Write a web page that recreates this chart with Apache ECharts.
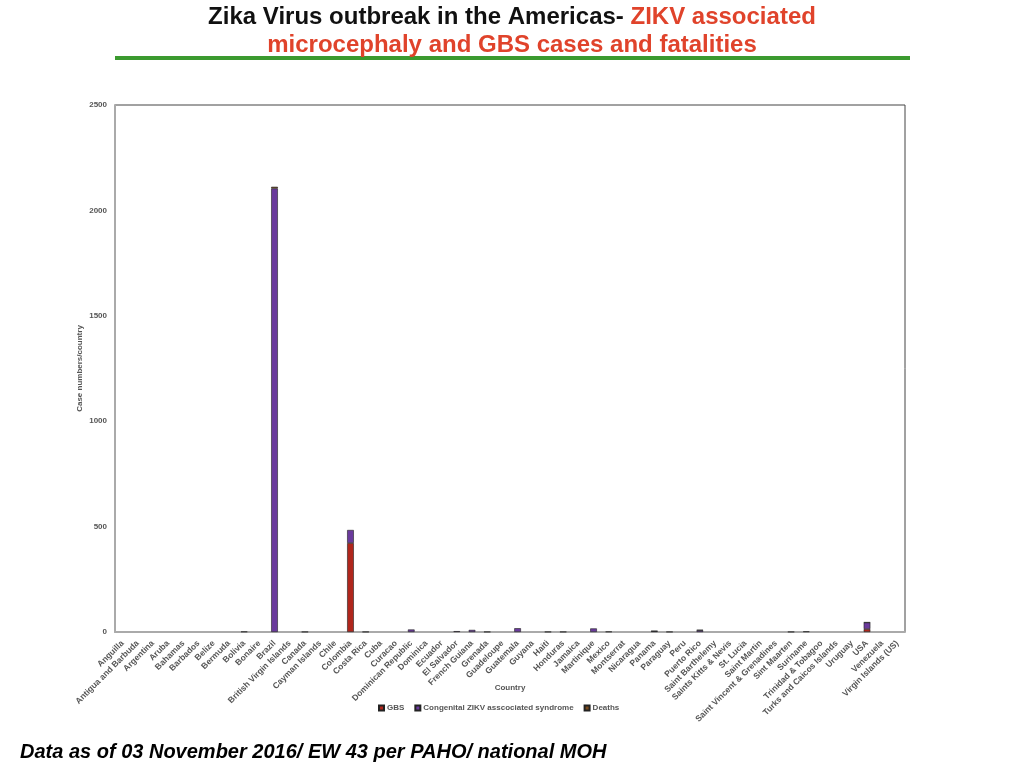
<!DOCTYPE html>
<html>
<head>
<meta charset="utf-8">
<script src="https://cdn.jsdelivr.net/npm/echarts@6/dist/echarts.min.js"></script>
<style>
  html, body { margin: 0; padding: 0; background: #fff; }
  #chart { width: 1024px; height: 768px; }
</style>
</head>
<body>
<div id="chart"></div>
<script>
// 各国数据
const COUNTRIES = [
  'Anguilla', 'Antigua and Barbuda', 'Argentina', 'Aruba', 'Bahamas', 'Barbados',
  'Belize', 'Bermuda', 'Bolivia', 'Bonaire', 'Brazil', 'British Virgin Islands',
  'Canada', 'Cayman Islands', 'Chile', 'Colombia', 'Costa Rica', 'Cuba', 'Curacao',
  'Dominican Republic', 'Dominica', 'Ecuador', 'El Salvador', 'French Guiana',
  'Grenada', 'Guadeloupe', 'Guatemala', 'Guyana', 'Haiti', 'Honduras', 'Jamaica',
  'Martinique', 'Mexico', 'Montserrat', 'Nicaragua', 'Panama', 'Paraguay', 'Peru',
  'Puerto Rico', 'Saint Barthelemy', 'Saints Kitts & Nevis', 'St. Lucia',
  'Saint Martin', 'Saint Vincent & Grenadines', 'Sint Maarten', 'Suriname',
  'Trinidad & Tobagoo', 'Turks and Caicos Islands', 'Uruguay', 'USA', 'Venezuela',
  'Virgin Islands (US)',
];

const GBS = [
  0, 0, 0, 0, 0, 0, 0, 0, 0, 0, 0, 0,
  0, 0, 0, 422, 0, 0, 0, 0, 0, 0, 0, 0,
  0, 0, 0, 0, 0, 0, 0, 0, 0, 0, 0, 0, 0, 0,
  0, 0, 0, 0, 0, 0, 0, 0, 0, 0, 0, 14, 0, 0,
];

const CONGENITAL = [
  0, 0, 0, 0, 0, 0, 0, 0, 2, 0, 2104, 0,
  1, 0, 0, 62, 1, 0, 0, 12, 0, 0, 4, 10,
  1, 0, 18, 0, 1, 1, 0, 17, 2, 0, 0, 4, 1, 0,
  8, 0, 0, 0, 0, 0, 1, 3, 0, 0, 0, 31, 0, 0,
];

const DEATHS = [
  0, 0, 0, 0, 0, 0, 0, 0, 0, 0, 8, 0,
  0, 0, 0, 0, 0, 0, 0, 0, 0, 0, 0, 0,
  0, 0, 0, 0, 0, 0, 0, 0, 0, 0, 0, 1, 0, 0,
  2, 0, 0, 0, 0, 0, 0, 0, 0, 0, 0, 1, 0, 0,
];

const Y_TICKS = { min: 0, max: 2500, interval: 500 };

const COLORS = { gbs: '#b0261c', cong: '#6a3a9c', deaths: '#7a4a1c' };

const FONT = 'Liberation Sans, Arial, sans-serif';
const SMALL = { fontFamily: FONT, fontSize: 8, fontWeight: 'bold', color: '#555' };

// 0 不画（否则会留下边框线）
function barSeries(name, data, color) {
  return {
    name, type: 'bar', stack: 'total',
    data: data.map((v) => (v === 0 ? null : v)),
    barWidth: '44%',
    itemStyle: { color, borderColor: '#222', borderWidth: 0.6 },
    emphasis: { disabled: true },
  };
}

const chart = echarts.init(document.getElementById('chart'), null, { renderer: 'canvas' });

chart.setOption({
  animation: false,
  title: {
    left: 'center', top: -2,
    text: '{b|Zika Virus outbreak in the Americas- }{r|ZIKV associated}\n{r|microcephaly and GBS cases and fatalities}',
    textStyle: {
      rich: {
        b: { fontFamily: FONT, fontSize: 24, fontWeight: 'bold', color: '#111', lineHeight: 28 },
        r: { fontFamily: FONT, fontSize: 24, fontWeight: 'bold', color: '#e0432b', lineHeight: 28 },
      },
    },
  },
  graphic: [
    { type: 'rect', shape: { x: 115, y: 56, width: 795, height: 4 }, style: { fill: '#3b9a2f' } },
    {
      type: 'text', left: 20, top: 742,
      style: {
        text: 'Data as of 03 November 2016/ EW 43 per PAHO/ national MOH',
        font: 'italic bold 20px "Liberation Sans", Arial, sans-serif', fill: '#000',
      },
    },
  ],
  legend: {
    bottom: 51, left: 373,
    icon: 'rect', itemWidth: 5, itemHeight: 5, itemGap: 10,
    textStyle: Object.assign({}, SMALL, { padding: [0, 0, 0, -2] }),
    data: ['GBS', 'Congenital ZIKV asscociated syndrome', 'Deaths'],
  },
  grid: { left: 115, right: 119, top: 105, bottom: 136, show: true, borderColor: '#444', borderWidth: 1 },
  xAxis: {
    type: 'category', data: COUNTRIES,
    name: 'Country', nameLocation: 'middle', nameGap: 52, nameMoveOverlap: false,
    nameTextStyle: SMALL,
    axisLine: { lineStyle: { color: '#aaa', width: 2 } },
    axisTick: { show: false },
    axisLabel: Object.assign({ interval: 0, rotate: 45, margin: 10 }, SMALL, { fontSize: 8.5 }),
  },
  yAxis: {
    type: 'value', min: Y_TICKS.min, max: Y_TICKS.max, interval: Y_TICKS.interval,
    name: 'Case numbers/country', nameLocation: 'middle', nameGap: 31, nameRotate: 90,
    nameMoveOverlap: false,
    nameTextStyle: SMALL,
    axisLine: { show: true, lineStyle: { color: '#aaa', width: 2 } },
    axisTick: { show: false },
    splitLine: { show: false },
    axisLabel: Object.assign({ margin: 8, formatter: (v) => String(v) }, SMALL),
  },
  series: [
    barSeries('GBS', GBS, COLORS.gbs),
    barSeries('Congenital ZIKV asscociated syndrome', CONGENITAL, COLORS.cong),
    barSeries('Deaths', DEATHS, COLORS.deaths),
  ],
});
</script>
</body>
</html>
